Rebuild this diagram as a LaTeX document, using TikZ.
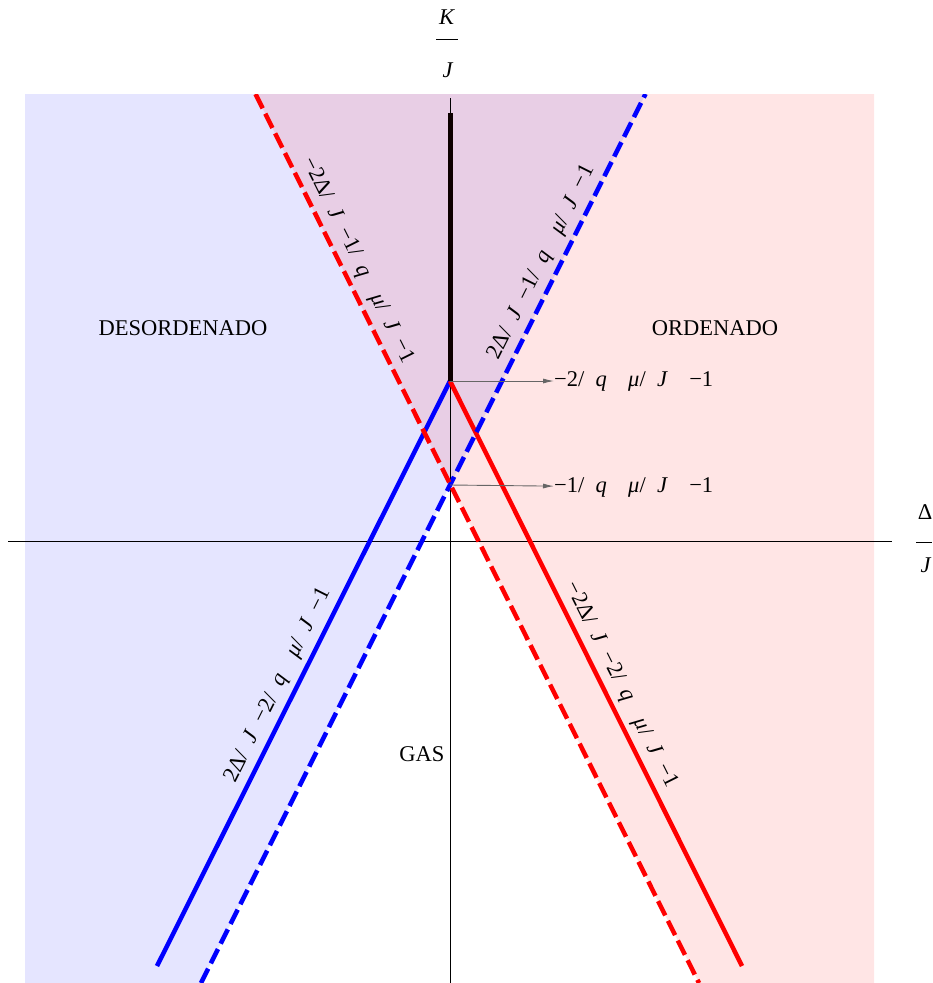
\documentclass[tikz,border=0pt]{standalone}
\usepackage{fontspec}
\setmainfont{Liberation Serif}
\usetikzlibrary{arrows.meta, positioning}
\newcommand{\eqgap}{\hspace{0.5em}}
\newcommand{\eqwide}{\hspace{0.95em}}

\begin{document}
\begin{tikzpicture}[x=1pt, y=-1pt,
        every node/.style={font=\fontsize{22.5}{27}\selectfont, text=black},
        tint/.style={fill opacity=0.1},
        axisln/.style={line width=0.8pt, black},
        phaseln/.style={line width=4.5pt},
        dashln/.style={line width=4.5pt, dash pattern=on 16pt off 6pt},
        pointer/.style={-{Latex[length=11pt, width=5pt]}, line width=0.9pt, black!60},
        eqlabel/.style={sloped, above, inner sep=5pt}]
    \useasboundingbox (0,0) rectangle (933,983);

    % key points on the K/J axis
    \coordinate (tri) at (450,381);
    \coordinate (bi) at (450,485);

    % shaded phases
    \fill[blue, tint] (25,94) -- (645.5,94) -- (201,983) -- (25,983) -- cycle;
    \fill[red, tint] (255.5,94) -- (874,94) -- (874,983) -- (699,983) -- cycle;

    % axes
    \draw[axisln] (8,541) -- (892,541);
    \draw[axisln] (450,98) -- (450,983);

    % transition lines
    \draw[phaseln, blue] (157,966) -- (tri)
        node[eqlabel, pos=0.467] (solBlue) {2Δ/\eqgap\textit{J}\eqgap−2/\eqgap\textit{q}\eqwide\textit{μ}/\eqgap\textit{J}\eqgap−1};
    \draw[phaseln, red] (tri) -- (742,966)
        node[eqlabel, pos=0.533] (solRed) {−2Δ/\eqgap\textit{J}\eqgap−2/\eqgap\textit{q}\eqwide\textit{μ}/\eqgap\textit{J}\eqgap−1};
    \draw[line width=5pt, black!95!red] (450,113) -- (tri);

    % spinodals
    \begin{scope}
        \clip (25,94) rectangle (874,983);
        \draw[dashln, blue] (201,983) -- (645.5,94)
            node[eqlabel, pos=0.802] (dashBlue) {2Δ/\eqgap\textit{J}\eqgap−1/\eqgap\textit{q}\eqwide\textit{μ}/\eqgap\textit{J}\eqgap−1};
        \draw[dashln, red] (255.5,94) -- (699,983)
            node[eqlabel, pos=0.196] (dashRed) {−2Δ/\eqgap\textit{J}\eqgap−1/\eqgap\textit{q}\eqwide\textit{μ}/\eqgap\textit{J}\eqgap−1};
    \end{scope}

    % marked points
    \node[anchor=west, inner sep=0pt] (triLab) at (554,381) {−2/\eqgap\textit{q}\eqwide\textit{μ}/\eqgap\textit{J}\eqwide−1};
    \node[anchor=west, inner sep=0pt] (biLab) at (554,487) {−1/\eqgap\textit{q}\eqwide\textit{μ}/\eqgap\textit{J}\eqwide−1};
    \draw[pointer] (tri) -- (triLab);
    \draw[pointer] (bi) -- (biLab);

    % axis labels
    \node (kTop) at (447,17) {\textit{K}};
    \node (kBot) at (448,70) {\textit{J}};
    \draw[line width=1pt] (436,39) -- (458,39);
    \node (dTop) at (925,512) {Δ};
    \node (dBot) at (926,565) {\textit{J}};
    \draw[line width=1pt] (916,542) -- (932,542);

    % phases
    \node (desord) at (183,328) {DESORDENADO};
    \node (orden) at (715,328) {ORDENADO};
    \node (gas) at (422,754) {GAS};
\end{tikzpicture}
\end{document}
